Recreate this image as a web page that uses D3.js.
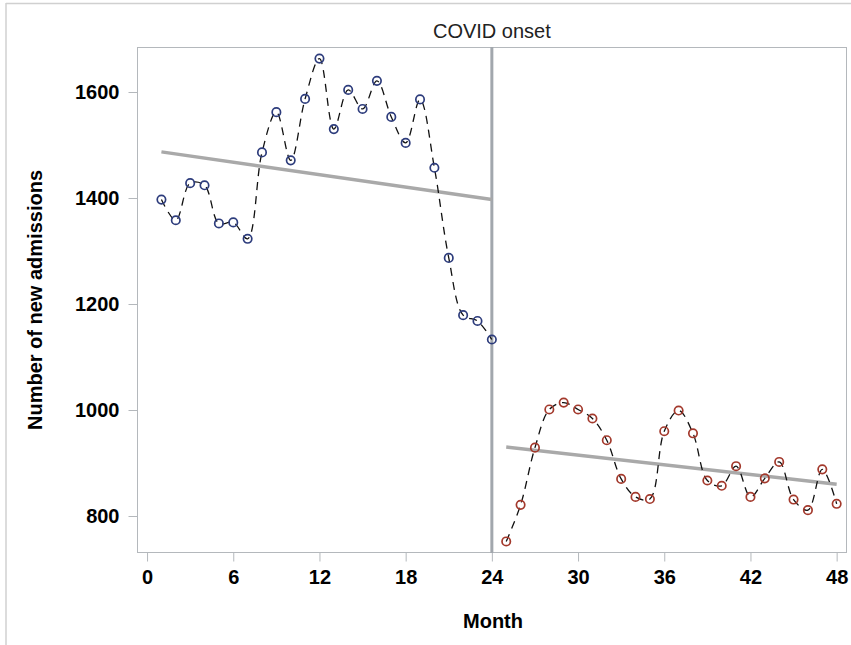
<!DOCTYPE html>
<html>
<head>
  <meta charset="utf8">
  <script src="https://d3js.org/d3.v7.min.js"></script>
  <style>
    body { margin: 0; background: #fff; }
    .axis text { fill: #000; font-family: "Liberation Sans", Arial, sans-serif; font-size: 20px; font-weight: bold; }
    .axis path, .axis line { stroke: #b4b8bc; }
  </style>
</head>
<body>
  <svg id="chart" width="851" height="645"></svg>
  <script>
    var preMonths = d3.range(1, 25);
    var preAdmissions = [1397, 1358, 1428, 1424, 1352, 1354, 1323, 1486, 1562, 1471, 1587, 1663,
      1530, 1604, 1568, 1621, 1553, 1504, 1586, 1457, 1287, 1179, 1168, 1133];
    var postMonths = d3.range(25, 49);
    var postAdmissions = [752, 821, 929, 1001, 1014, 1001, 984, 943, 870, 836, 832, 960,
      999, 956, 867, 857, 894, 836, 871, 902, 831, 811, 888, 823];
    var preTrend = [[1, 1487], [24, 1397]];
    var postTrend = [[25, 930], [48, 860]];
    var xTicks = [0, 6, 12, 18, 24, 30, 36, 42, 48];
    var yTicks = [800, 1000, 1200, 1400, 1600];
    var onsetMonth = 24;

    var svg = d3.select('#chart');
    var pLeft = 137, pRight = 847, pTop = 47, pBottom = 553;
    var font = '"Liberation Sans", Arial, sans-serif';

    var x = d3.scaleLinear().domain([-0.7, 48.72]).range([pLeft, pRight]);
    var y = d3.scaleLinear().domain([800, 1600]).range([516, 92]);

    // outer border (only top and left edges show)
    svg.append('line').attr('x1', 6).attr('x2', 851).attr('y1', 3.5).attr('y2', 3.5)
      .attr('stroke', '#d0d0d0').attr('stroke-width', 1.5);
    svg.append('line').attr('x1', 6).attr('x2', 6).attr('y1', 3).attr('y2', 645)
      .attr('stroke', '#d0d0d0').attr('stroke-width', 1.5);

    // plot frame
    svg.append('rect').attr('x', pLeft + 0.5).attr('y', pTop + 0.5)
      .attr('width', pRight - pLeft - 1).attr('height', pBottom - pTop - 1)
      .attr('fill', 'none').attr('stroke', '#b4b8bc');

    svg.append('g').attr('class', 'axis')
      .attr('transform', 'translate(0,' + (pBottom - 0.5) + ')')
      .call(d3.axisBottom(x).tickValues(xTicks).tickSize(9).tickPadding(8).tickFormat(d3.format('d')))
      .call(g => g.select('.domain').remove());

    svg.append('g').attr('class', 'axis')
      .attr('transform', 'translate(' + (pLeft + 0.5) + ',0)')
      .call(d3.axisLeft(y).tickValues(yTicks).tickSize(9).tickPadding(9).tickFormat(d3.format('d')))
      .call(g => g.select('.domain').remove());

    svg.append('text').attr('x', 493).attr('y', 628)
      .attr('text-anchor', 'middle').style('font', 'bold 20px ' + font)
      .text('Month');
    svg.append('text').attr('transform', 'translate(42,' + ((pTop + pBottom) / 2) + ') rotate(-90)')
      .attr('text-anchor', 'middle').style('font', 'bold 20px ' + font)
      .text('Number of new admissions');

    // onset line and label
    svg.append('line').attr('x1', x(onsetMonth)).attr('x2', x(onsetMonth))
      .attr('y1', pTop).attr('y2', pBottom).attr('stroke', '#a2a7ad').attr('stroke-width', 3);
    svg.append('text').attr('x', x(onsetMonth)).attr('y', 38)
      .attr('text-anchor', 'middle').attr('fill', '#222')
      .style('font', '20px ' + font).text('COVID onset');

    var line = d3.line().x(d => x(d[0])).y(d => y(d[1])).curve(d3.curveCatmullRom.alpha(0.5));
    var plain = d3.line().x(d => x(d[0])).y(d => y(d[1]));

    function drawSeries(months, values, color) {
      var pts = months.map((m, i) => [m, values[i]]);
      svg.append('path').datum(pts).attr('d', line)
        .attr('fill', 'none').attr('stroke', '#111').attr('stroke-width', 1.3)
        .attr('stroke-dasharray', '8,6');
      svg.append('g').selectAll('circle').data(pts).enter().append('circle')
        .attr('cx', d => x(d[0])).attr('cy', d => y(d[1])).attr('r', 4.2)
        .attr('fill', 'none').attr('stroke', color).attr('stroke-width', 1.7);
    }

    [preTrend, postTrend].forEach(t => {
      svg.append('path').datum(t).attr('d', plain)
        .attr('fill', 'none').attr('stroke', '#a9a9a9').attr('stroke-width', 3.5);
    });

    drawSeries(preMonths, preAdmissions, '#2d3c7c');
    drawSeries(postMonths, postAdmissions, '#a3392c');
  </script>
</body>
</html>
